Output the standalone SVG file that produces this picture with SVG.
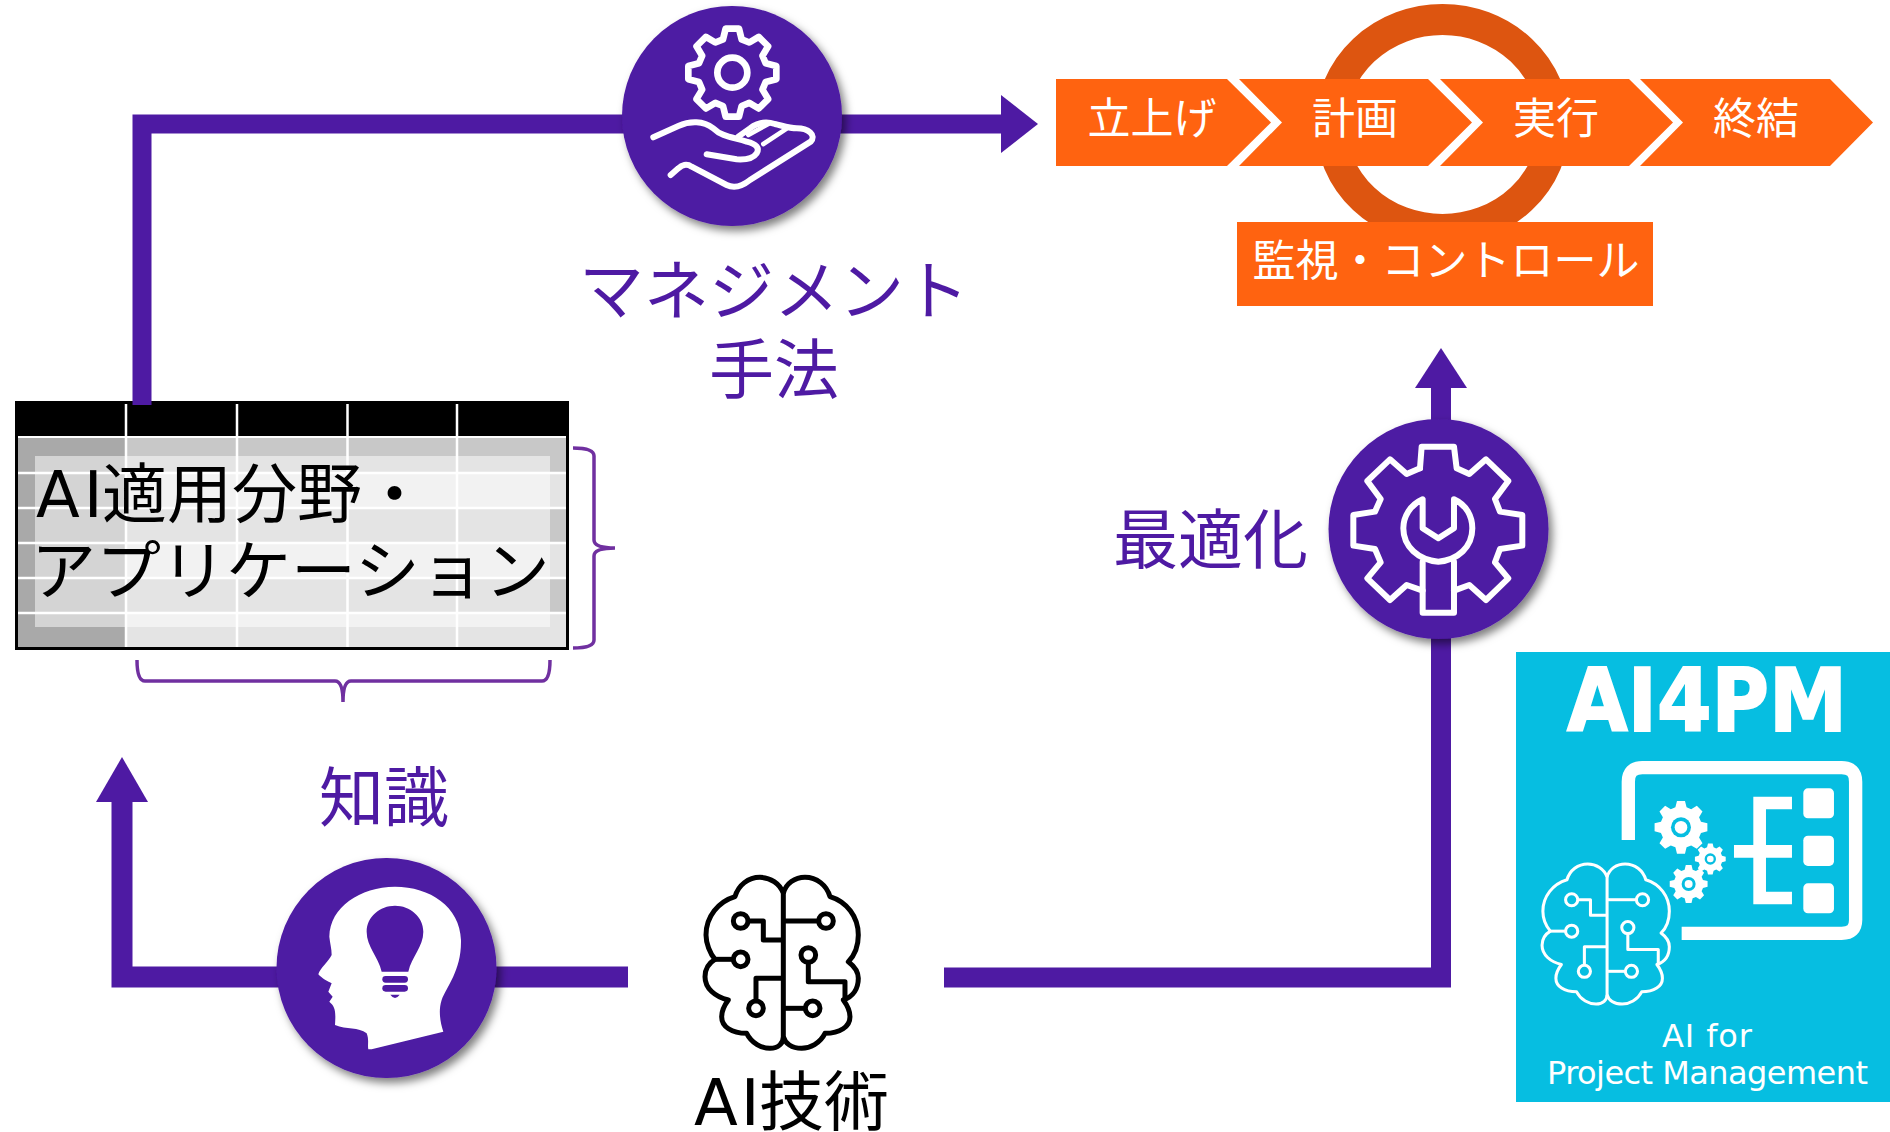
<svg xmlns="http://www.w3.org/2000/svg" xmlns:xlink="http://www.w3.org/1999/xlink" width="1890" height="1132" viewBox="0 0 1890 1132">
<style>
text{font-family:"Noto Sans CJK JP","Noto Sans CJK SC",sans-serif}
.lat{font-family:"DejaVu Sans","Noto Sans CJK JP",sans-serif}
.p{fill:#4E1AA3;font-size:65px}
.k{fill:#000;font-size:65px}
.w{fill:#fff;font-size:43px}
.c{text-anchor:middle}
.ln{fill:none;stroke:#4E1AA3}
.disc{fill:#4E1AA3;filter:url(#sh)}
.ico{fill:none;stroke:#fff;stroke-linejoin:round;stroke-linecap:round}
.chev{fill:#FF6310}
.brace{fill:none;stroke:#7030A0;stroke-width:3.5}
.gr{stroke:#fff;stroke-width:2.5}
.sq{fill:#fff}
</style>
<defs>
<filter id="sh" x="-20%" y="-20%" width="145%" height="145%"><feDropShadow dx="4" dy="5" stdDeviation="4" flood-color="#000" flood-opacity="0.5"/></filter>
<marker id="ah" markerUnits="userSpaceOnUse" markerWidth="38" markerHeight="58" refX="0" refY="29" orient="auto"><path d="M0 0L37 29L0 58Z" fill="#4E1AA3"/></marker>
<marker id="au" markerUnits="userSpaceOnUse" markerWidth="42" markerHeight="52" refX="0" refY="26" orient="auto"><path d="M0 0L40 26L0 52Z" fill="#4E1AA3"/></marker>
<marker id="au2" markerUnits="userSpaceOnUse" markerWidth="47" markerHeight="52" refX="0" refY="26" orient="auto"><path d="M0 0L45 26L0 52Z" fill="#4E1AA3"/></marker>
<polygon id="gear8" points="-28,-100 -20,-132 20,-132 28,-100 50.9,-90.5 79.2,-107.5 107.5,-79.2 90.5,-50.9 100,-28 132,-20 132,20 100,28 90.5,50.9 107.5,79.2 79.2,107.5 50.9,90.5 28,100 20,132 -20,132 -28,100 -50.9,90.5 -79.2,107.5 -107.5,79.2 -90.5,50.9 -100,28 -132,20 -132,-20 -100,-28 -90.5,-50.9 -107.5,-79.2 -79.2,-107.5 -50.9,-90.5"/>
<g id="brainIcon" fill="none" stroke-linejoin="round">
<path d="M310 100C300 70 270 52 240 52C205 52 175 75 165 110C115 125 78 170 78 225C78 250 90 280 105 298C85 310 75 330 75 350C75 385 105 410 145 420C130 440 125 455 125 470C125 500 155 520 200 520C215 550 245 565 270 565C295 565 310 550 310 530Z"/>
<path d="M310 100C318 70 345 52 375 52C410 52 440 75 450 110C500 125 535 170 535 225C535 255 525 285 505 305C525 320 535 335 535 355C535 385 520 410 490 420C505 440 510 455 510 470C510 500 480 520 435 520C420 550 390 565 365 565C335 565 315 550 310 530"/>
<circle cx="182" cy="183" r="22"/><path d="M204 183H250V240H310"/>
<circle cx="438" cy="183" r="22"/><path d="M416 183H310"/>
<circle cx="182" cy="298" r="22"/><path d="M160 298H105"/>
<circle cx="385" cy="285" r="22"/><path d="M385 307V365H495V420"/>
<circle cx="228" cy="445" r="22"/><path d="M228 423V355H310"/>
<circle cx="398" cy="445" r="22"/><path d="M376 445H310"/>
</g>
</defs>
<rect width="1890" height="1132" fill="#fff"/>

<g id="process">
<ellipse cx="1442.5" cy="124.5" rx="111.5" ry="105" fill="none" stroke="#DD5510" stroke-width="31"/>
<polygon class="chev" points="1056,79 1227,79 1271,122.5 1227,166 1056,166"/>
<polygon class="chev" points="1239,79 1428,79 1472,122.5 1428,166 1239,166 1282,122.5"/>
<polygon class="chev" points="1440,79 1629,79 1673,122.5 1629,166 1440,166 1483,122.5"/>
<polygon class="chev" points="1640,79 1830,79 1873,122.5 1830,166 1640,166 1683,122.5"/>
<rect class="chev" x="1237" y="222" width="416" height="84"/>
<text class="w c" x="1152" y="134">立上げ</text>
<text class="w c" x="1355" y="134">計画</text>
<text class="w c" x="1556" y="134">実行</text>
<text class="w c" x="1756" y="134">終結</text>
<text class="w c" x="1446" y="276">監視・コントロール</text>
</g>

<g id="table">
<rect x="15" y="401" width="554" height="249" fill="#000"/>
<rect x="18" y="436" width="548" height="211" fill="#fff"/>
<rect x="18" y="438" width="548" height="34" fill="#C8C8C8"/>
<rect x="18" y="472" width="548" height="36" fill="#E4E4E4"/>
<rect x="18" y="508" width="548" height="35" fill="#C8C8C8"/>
<rect x="18" y="543" width="548" height="35" fill="#E4E4E4"/>
<rect x="18" y="578" width="548" height="35" fill="#C8C8C8"/>
<rect x="18" y="613" width="548" height="34" fill="#E4E4E4"/>
<rect x="18" y="438" width="108" height="209" fill="#A9A9A9"/>
<rect x="35" y="456" width="515" height="171" fill="#fff" fill-opacity="0.5"/>
<path class="gr" d="M18 473H566M18 508H566M18 543H566M18 578H566M18 613H566M126 404V647M237 404V647M347.500 404V647M457 404V647"/>
<text class="k lat" x="36" y="517" letter-spacing="4" style="font-size:64px">AI</text>
<text class="k" x="102" y="517">適用分野・</text>
<text class="k" x="31" y="594">アプリケーション</text>
<path class="brace" d="M573 448Q594 448 594 456V540Q594 548 615 548Q594 548 594 556V640Q594 648 573 648"/>
<path class="brace" d="M137 660Q137 681 145 681H335Q343 681 343 702Q343 681 351 681H542Q550 681 550 660"/>
</g>

<g id="connectors">
<path class="ln" stroke-width="19" d="M142 405V124H1001" marker-end="url(#ah)"/>
<path class="ln" stroke-width="20" d="M944 977.500H1441V388" marker-end="url(#au)"/>
<path class="ln" stroke-width="21" d="M628 977H122V802" marker-end="url(#au2)"/>
</g>

<g id="node-management">
<circle class="disc" cx="732" cy="116" r="110"/>
<g transform="translate(600 0) scale(0.3333)">
<use href="#gear8" transform="translate(397 218)" fill="none" stroke="#fff" stroke-width="20" stroke-linejoin="round"/>
<circle cx="397" cy="218" r="45" fill="none" stroke="#fff" stroke-width="20"/>
<path class="ico" stroke-width="18" d="M160 412L235 378C270 362 310 362 340 385C365 410 400 412 440 425C470 432 480 445 470 460C460 475 440 480 410 478L320 463"/>
<path class="ico" stroke-width="18" d="M415 410L450 385C470 370 495 362 525 372C550 378 570 385 590 385C625 385 650 405 632 425L450 540C425 560 400 565 380 555L275 500C260 490 245 495 235 505L212 525"/>
<path class="ico" stroke-width="14" d="M445 405L505 372M490 432L560 386"/>
</g>
<text class="p c" x="774" y="314">マネジメント</text>
<text class="p c" x="774" y="393">手法</text>
</g>

<g id="node-optimize">
<circle class="disc" cx="1438.500" cy="529" r="110"/>
<g transform="translate(1310 400) scale(0.3333)">
<path class="ico" stroke-width="18" d="M330 205L335 140H432L440 205L478 222L528 178L595 243L555 297L570 335L637 345V437L570 447L555 487L595 535L528 600L478 555L432 572"/>
<path class="ico" stroke-width="18" d="M338 572L290 555L240 600L172 535L212 487L195 447L130 437V345L195 335L212 297L172 243L240 178L290 222L330 205"/>
<path class="ico" stroke-width="18" d="M338 298V385L385 415L432 385V298C470 315 487 350 487 385C487 440 445 480 385 485C325 480 280 440 280 385C280 350 300 315 338 298Z"/>
<path class="ico" stroke-width="18" d="M338 485V638H432V485"/>
</g>
<text class="p" x="1113" y="563">最適化</text>
</g>

<g id="node-knowledge">
<circle class="disc" cx="386.500" cy="968" r="110"/>
<g transform="translate(260 840) scale(0.3333)">
<path fill="#fff" d="M335 628L550 575C540 545 535 510 545 480C560 440 605 390 603 300C600 200 510 140 405 140C300 142 210 200 208 290C210 310 215 325 215 345C205 365 180 385 175 403C185 415 205 425 215 430L205 455L218 470L208 485C225 500 228 510 225 555C260 570 295 560 320 580C328 600 322 615 325 628Z"/>
<path fill="#4E1AA3" d="M405 197C360 197 320 230 320 275C320 320 355 350 365 395H445C455 350 490 320 490 275C490 230 450 197 405 197Z"/>
<rect x="367" y="408" width="77" height="20" rx="10" fill="#4E1AA3"/>
<rect x="367" y="435" width="77" height="20" rx="10" fill="#4E1AA3"/>
<path d="M391 464H419Q412 474 405 474Q398 474 391 464Z" fill="#4E1AA3"/>
</g>
<text class="p" x="319" y="821">知識</text>
</g>

<g id="node-ai">
<use href="#brainIcon" transform="translate(680 860) scale(0.3333)" stroke="#000" stroke-width="15"/>
<text class="k lat" x="694" y="1125" letter-spacing="3" style="font-size:64px">AI</text>
<text class="k" x="759" y="1125">技術</text>
</g>

<g id="node-ai4pm">
<rect x="1516" y="652" width="374" height="450" fill="#06BEE1"/>
<text class="lat" x="1567" y="731" font-size="87" font-weight="700" fill="#fff" stroke="#fff" stroke-width="2" textLength="280" lengthAdjust="spacingAndGlyphs">AI4PM</text>
<g transform="translate(1510 650) scale(0.3333)">
<path fill="none" stroke="#fff" stroke-width="40" d="M355 570V395Q355 353 397 353H995Q1037 353 1037 395V810Q1037 850 995 850H515"/>
<path fill="none" stroke="#fff" stroke-width="38" d="M846 459H749V744H846M672 604H846"/>
<rect class="sq" x="880" y="415" width="92" height="90" rx="14"/>
<rect class="sq" x="880" y="557" width="92" height="91" rx="14"/>
<rect class="sq" x="880" y="700" width="92" height="90" rx="14"/>
<use href="#gear8" transform="translate(513 532) scale(0.6)" fill="#fff"/>
<circle cx="513" cy="532" r="30" fill="#06BEE1"/><circle cx="513" cy="532" r="19" fill="#fff"/>
<use href="#gear8" transform="translate(601 627) scale(0.35)" fill="#fff"/>
<circle cx="601" cy="627" r="17" fill="#06BEE1"/><circle cx="601" cy="627" r="10" fill="#fff"/>
<use href="#gear8" transform="translate(536 702) scale(0.43)" fill="#fff"/>
<circle cx="536" cy="702" r="21" fill="#06BEE1"/><circle cx="536" cy="702" r="12" fill="#fff"/>
</g>
<use href="#brainIcon" transform="translate(1521.300 849.700) scale(0.2767 0.2733)" stroke="#fff" stroke-width="11"/>
<text class="lat" x="1662" y="1047" font-size="32" fill="#fff" textLength="90">AI for</text>
<text class="lat" x="1547" y="1084" font-size="32" fill="#fff" textLength="321">Project Management</text>
</g>
</svg>
